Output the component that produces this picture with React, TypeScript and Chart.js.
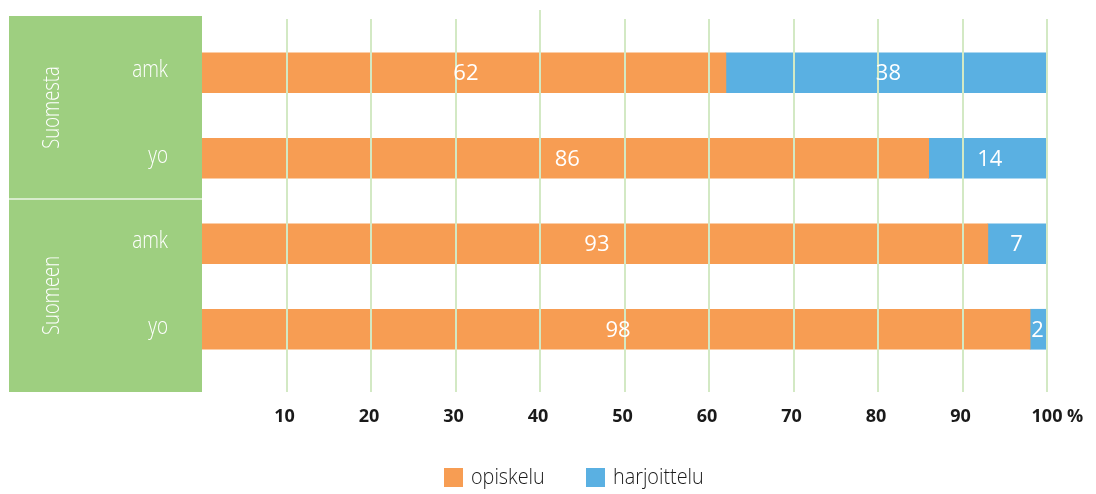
import React, { useEffect, useRef } from "react";
import { Chart, registerables } from "chart.js";

Chart.register(...registerables);

const categories = ["amk", "yo", "amk", "yo"];
const groups = ["Suomesta", "Suomeen"];
const opiskelu = [62, 86, 93, 98];
const harjoittelu = [38, 14, 7, 2];
const xTicks = [10, 20, 30, 40, 50, 60, 70, 80, 90, 100];
const seriesNames = ["opiskelu", "harjoittelu"];

const ORANGE = "#f79d53";
const BLUE = "#5ab0e2";
const GREEN = "#9ecf80";
const GRID = "#d3e9c4";
const FONT = "'Open Sans', 'Noto Sans', sans-serif";

const customPlugin = {
  id: "custom",
  beforeDatasetsDraw(chart: any) {
    const ctx = chart.ctx;
    const ca = chart.chartArea;
    const yScale = chart.scales.y;
    ctx.save();
    const boxLeft = 9;
    const boxTop = 16;
    const boxBottom = 392;
    const midY = 199;
    ctx.fillStyle = GREEN;
    ctx.fillRect(boxLeft, boxTop, ca.left - boxLeft, boxBottom - boxTop);
    ctx.strokeStyle = "rgba(255,255,255,0.6)";
    ctx.lineWidth = 2;
    ctx.beginPath();
    ctx.moveTo(boxLeft, midY);
    ctx.lineTo(ca.left, midY);
    ctx.stroke();
    ctx.fillStyle = "#ffffff";
    ctx.font = `300 23px ${FONT}`;
    ctx.textAlign = "right";
    ctx.textBaseline = "middle";
    categories.forEach((c, i) => {
      ctx.save();
      ctx.translate(168, yScale.getPixelForValue(i) - 2);
      ctx.scale(0.82, 1);
      ctx.fillText(c, 0, 0);
      ctx.restore();
    });
    ctx.textAlign = "center";
    const halves = [
      [boxTop, midY],
      [midY, boxBottom],
    ];
    groups.forEach((g, gi) => {
      const cy = (halves[gi][0] + halves[gi][1]) / 2;
      ctx.save();
      ctx.translate(52, cy);
      ctx.rotate(-Math.PI / 2);
      ctx.scale(0.8, 1);
      ctx.fillText(g, 0, 0);
      ctx.restore();
    });
    ctx.restore();
  },
  afterDatasetsDraw(chart: any) {
    const ctx = chart.ctx;
    const xScale = chart.scales.x;
    ctx.save();
    ctx.strokeStyle = GRID;
    ctx.lineWidth = 2;
    xTicks.forEach((t) => {
      const x = Math.round(xScale.getPixelForValue(t));
      ctx.beginPath();
      ctx.moveTo(x, t === 40 ? 10 : 19);
      ctx.lineTo(x, 392);
      ctx.stroke();
    });
    ctx.fillStyle = "#ffffff";
    ctx.font = `400 22px ${FONT}`;
    ctx.textAlign = "center";
    ctx.textBaseline = "middle";
    chart.data.datasets.forEach((ds: any, di: number) => {
      const meta = chart.getDatasetMeta(di);
      meta.data.forEach((el: any, i: number) => {
        const w = Math.abs(el.x - el.base);
        const cx = (el.x + el.base) / 2 + (w > 60 ? 2 : -1);
        ctx.fillText(String(ds.data[i]), cx, el.y + 1);
      });
    });
    ctx.fillStyle = "#1a1a1a";
    ctx.font = `bold 18px ${FONT}`;
    ctx.textBaseline = "middle";
    xTicks.forEach((t) => {
      const x = xScale.getPixelForValue(t);
      if (t === 100) {
        const w = ctx.measureText("100").width;
        ctx.textAlign = "left";
        ctx.fillText("100 %", x - w / 2, 417);
      } else {
        ctx.textAlign = "center";
        ctx.fillText(String(t), x - 2, 417);
      }
    });
    const colors = [ORANGE, BLUE];
    const starts = [444, 586];
    ctx.font = `300 22px ${FONT}`;
    ctx.textAlign = "left";
    seriesNames.forEach((n, i) => {
      ctx.fillStyle = colors[i];
      ctx.fillRect(starts[i], 468, 19, 19);
      ctx.fillStyle = "#1a1a1a";
      ctx.save();
      ctx.translate(starts[i] + 27, 478);
      ctx.scale(0.9, 1);
      ctx.fillText(n, 0, 0);
      ctx.restore();
    });
    ctx.restore();
  },
};

export default function App() {
  const ref = useRef<HTMLCanvasElement>(null);
  useEffect(() => {
    if (!ref.current) return;
    const chart = new Chart(ref.current, {
      type: "bar",
      data: {
        labels: categories,
        datasets: [
          { label: seriesNames[0], data: opiskelu, backgroundColor: ORANGE, barThickness: 40 },
          { label: seriesNames[1], data: harjoittelu, backgroundColor: BLUE, barThickness: 40 },
        ],
      },
      options: {
        indexAxis: "y",
        animation: false,
        responsive: false,
        maintainAspectRatio: false,
        layout: { padding: { left: 202, right: 49, top: 30, bottom: 122 } },
        plugins: { legend: { display: false }, tooltip: { enabled: false } },
        scales: {
          x: { stacked: true, min: 0, max: 100, display: false },
          y: { stacked: true, display: false },
        },
      },
      plugins: [customPlugin],
    });
    return () => chart.destroy();
  }, []);
  return (
    <div style={{ position: "fixed", left: 0, top: 0, width: 1096, height: 494, background: "#fff" }}>
      <canvas ref={ref} width={1096} height={494} style={{ width: 1096, height: 494 }} />
    </div>
  );
}
